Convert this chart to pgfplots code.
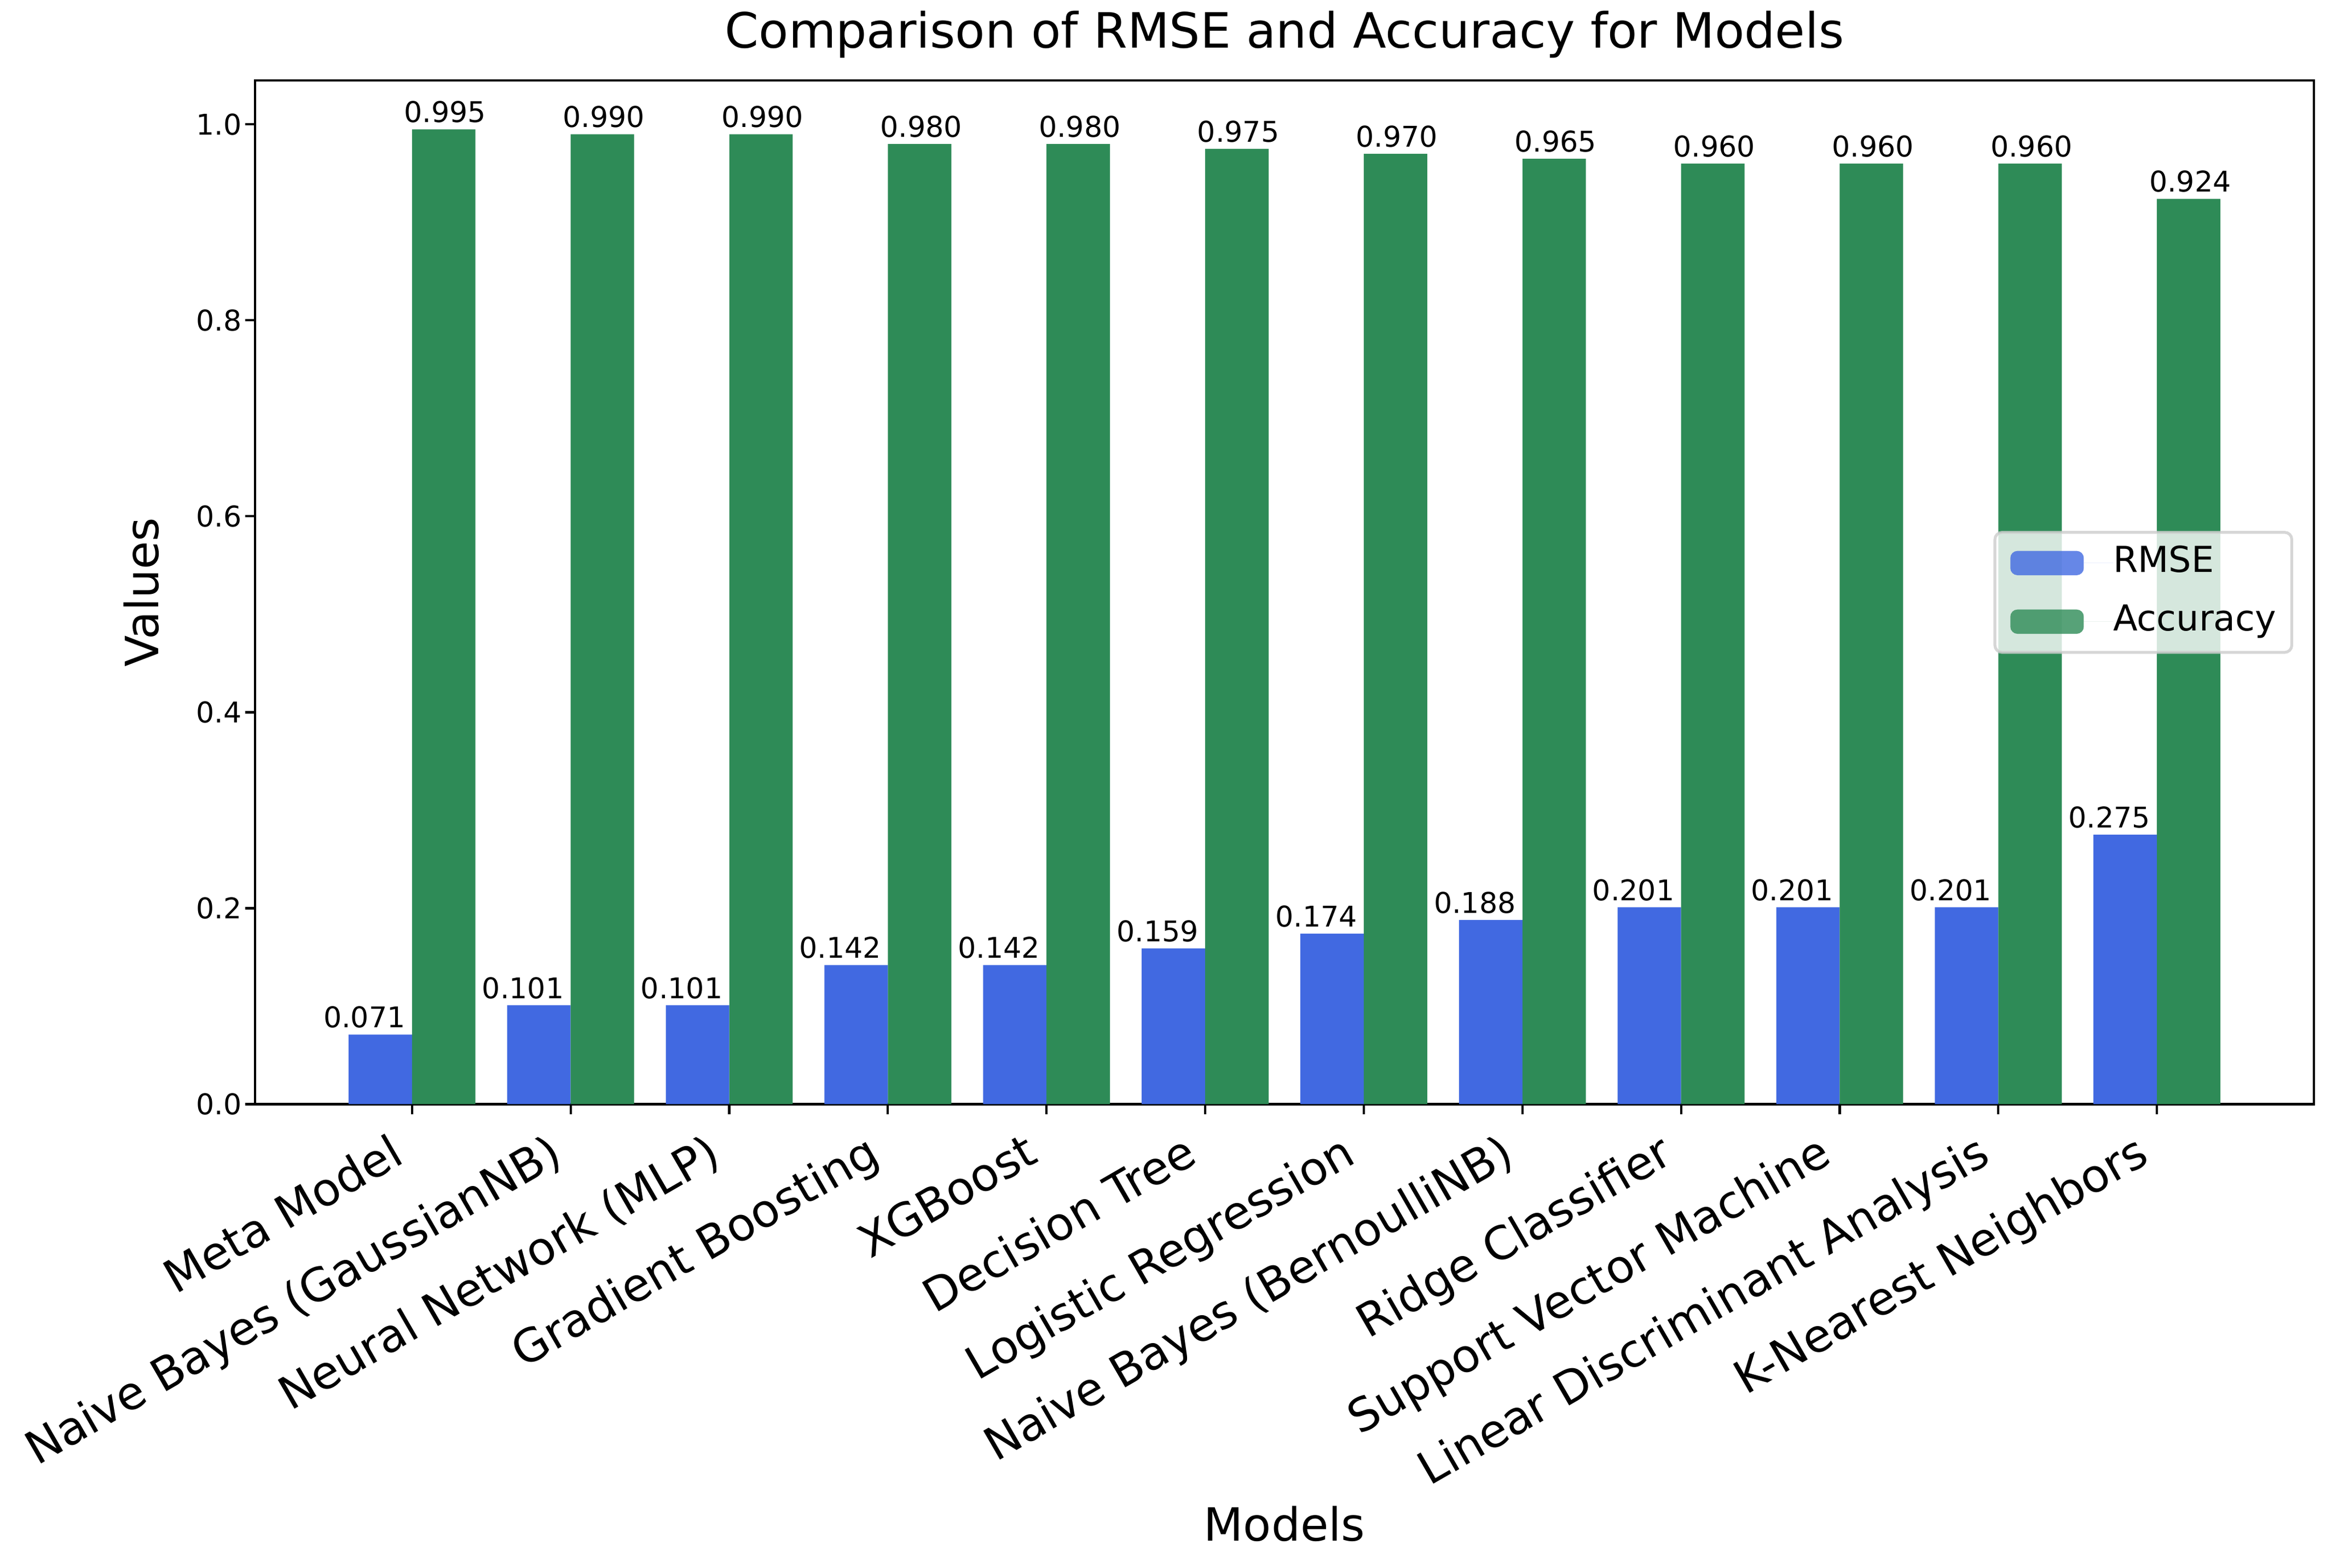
\documentclass[border=0pt]{standalone}
\usepackage{fontspec}
\setmainfont{DejaVu Sans}
\usepackage{pgfplots}
\pgfplotsset{compat=1.18}

\definecolor{rmsecol}{RGB}{65,105,225}
\definecolor{acccol}{RGB}{46,139,87}

\begin{document}
\begin{tikzpicture}
\path[use as bounding box] (-89.2pt,-162.2pt) rectangle (726.7pt,386.3pt);
\begin{axis}[
    scale only axis,
    width=720.4pt, height=358.1pt,
    xmin=-0.99, xmax=11.99,
    ymin=0, ymax=1.04475,
    /pgf/number format/assume math mode=true,
    axis line style={line width=0.8pt},
    tick align=outside,
    tick pos=left,
    major tick length=3.5pt,
    every tick/.style={black, line width=0.8pt},
    xtick={0,1,2,3,4,5,6,7,8,9,10,11},
    xticklabels={Meta Model, Naive Bayes (GaussianNB), Neural Network (MLP),
        Gradient Boosting, XGBoost, Decision Tree, Logistic Regression,
        Naive Bayes (BernoulliNB), Ridge Classifier, Support Vector Machine,
        Linear Discriminant Analysis, K-Nearest Neighbors},
    xticklabel style={font=\fontsize{16}{19}\selectfont, rotate=30, anchor=north east, inner sep=0pt, xshift=-10pt, yshift=-1pt},
    ytick={0,0.2,0.4,0.6,0.8,1.0},
    yticklabel style={font=\fontsize{10}{12}\selectfont, inner sep=0pt, xshift=-1pt,
        /pgf/number format/.cd, fixed, fixed zerofill, precision=1},
    every axis title shift=0pt,
    title={Comparison of RMSE and Accuracy for Models},
    title style={font=\fontsize{17}{20}\selectfont, at={(0.5,1.0321)}, anchor=base, inner sep=0pt},
    xlabel={Models},
    xlabel style={font=\fontsize{16}{19}\selectfont, at={(0.5,-0.4267)}, anchor=base, inner sep=0pt},
    ylabel={Values},
    ylabel style={font=\fontsize{16}{19}\selectfont, at={(-0.04678,0.5)}, anchor=base, inner sep=0pt},
    legend style={at={(0.9899,0.5)}, anchor=east,
        font=\fontsize{12.5}{15}\selectfont,
        fill=white, fill opacity=0.8, text opacity=1,
        draw=black!20, draw opacity=0.8, line width=1pt, rounded corners=2.5pt,
        inner xsep=5.4pt, inner ysep=4.5pt,
        row sep=8pt, column sep=0pt,
        nodes={inner sep=0pt, text height=9.5pt, text depth=3pt}},
    legend cell align=left,
    legend image code/.code={\fill[#1] (0pt,-4.25pt) rectangle (25.7pt,4.25pt);\path (25.7pt,0pt) -- (36pt,0pt);},
]
% RMSE
\addplot[ybar, bar width=0.4, bar shift=-0.2, fill=rmsecol, draw=none,
    nodes near coords,
    nodes near coords style={font=\fontsize{10}{12}\selectfont, text=black, anchor=base, xshift=-16.65pt, yshift=2.4pt, inner sep=0pt,
        /pgf/number format/.cd, fixed, fixed zerofill, precision=3}]
coordinates {
(0,0.071) (1,0.101) (2,0.101) (3,0.142) (4,0.142) (5,0.159)
(6,0.174) (7,0.188) (8,0.201) (9,0.201) (10,0.201) (11,0.275)
};
\addlegendentry{RMSE}
% Accuracy
\addplot[ybar, bar width=0.4, bar shift=0.2, fill=acccol, draw=none,
    nodes near coords,
    nodes near coords style={font=\fontsize{10}{12}\selectfont, text=black, anchor=base, xshift=11.6pt, yshift=2.4pt, inner sep=0pt,
        /pgf/number format/.cd, fixed, fixed zerofill, precision=3}]
coordinates {
(0,0.995) (1,0.990) (2,0.990) (3,0.980) (4,0.980) (5,0.975)
(6,0.970) (7,0.965) (8,0.960) (9,0.960) (10,0.960) (11,0.924)
};
\addlegendentry{Accuracy}
\end{axis}
\end{tikzpicture}
\end{document}
